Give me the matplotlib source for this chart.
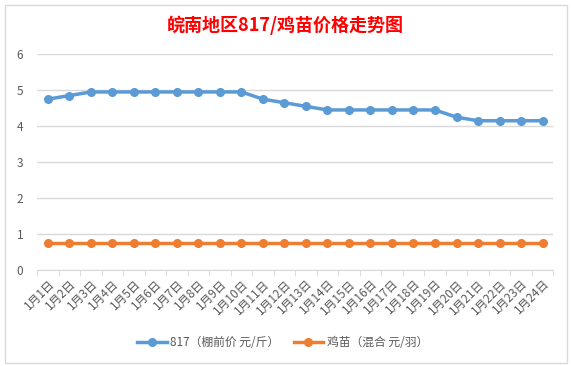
import matplotlib.pyplot as plt
from matplotlib.patches import Rectangle

plt.rcParams['font.family'] = ['Noto Sans CJK SC', 'DejaVu Sans']

days = ['1月%d日' % i for i in range(1, 25)]
price_817 = [4.75, 4.85, 4.95, 4.95, 4.95, 4.95, 4.95, 4.95, 4.95, 4.95,
             4.75, 4.65, 4.55, 4.45, 4.45, 4.45, 4.45, 4.45, 4.45, 4.25,
             4.15, 4.15, 4.15, 4.15]
price_chick = [0.75] * 24

fig = plt.figure(figsize=(5.71, 3.66), dpi=100)
fig.patches.append(Rectangle((0.009, 0.008), 0.984, 0.978, transform=fig.transFigure,
                             fill=False, edgecolor='#d9d9d9', linewidth=1))

ax = fig.add_axes([0.065, 0.262, 0.904, 0.590])
x = list(range(len(days)))
ax.plot(x, price_817, color='#5b9bd5', linewidth=2.5, marker='o', markersize=5.5,
        label='817（棚前价 元/斤）')
ax.plot(x, price_chick, color='#ed7d31', linewidth=2.5, marker='o', markersize=5.5,
        label='鸡苗（混合 元/羽）')

ax.set_xlim(-0.5, len(days) - 0.5)
ax.set_ylim(0, 6)
ax.set_yticks(range(0, 7))
ax.grid(axis='y', color='#d9d9d9', linewidth=1)
ax.set_axisbelow(True)
for s in ['top', 'right', 'left']:
    ax.spines[s].set_visible(False)
ax.spines['bottom'].set_color('#d9d9d9')
ax.tick_params(axis='y', length=0, labelsize=8.5, labelcolor='#595959', pad=10)

ax.set_xticks(x)
ax.set_xticklabels(days, rotation=45, ha='right', rotation_mode='anchor',
                   fontsize=8.5, color='#595959')
ax.tick_params(axis='x', length=0, pad=5)
ax.set_xticks([i - 0.5 for i in range(len(days) + 1)], minor=True)
ax.tick_params(axis='x', which='minor', length=4, color='#d9d9d9')

fig.text(0.5, 0.93, '皖南地区817/鸡苗价格走势图', ha='center', va='center',
         color='red', fontsize=13, fontweight='bold')

fig.legend(loc='center', bbox_to_anchor=(0.495, 0.063), ncol=2, frameon=False,
           fontsize=8.5, labelcolor='#595959', handlelength=2.5,
           handletextpad=0.3, columnspacing=1.2)

fig.savefig('out.png', dpi=100)
